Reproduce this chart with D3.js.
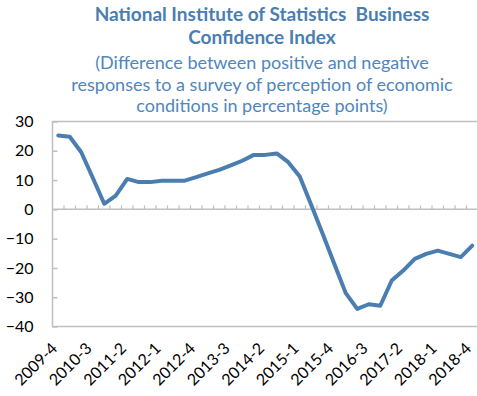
<!DOCTYPE html>
<html>
<head>
<meta charset="utf-8">
<script src="https://cdn.jsdelivr.net/npm/d3@7"></script>
<style>
  html, body { margin: 0; padding: 0; background: #fff; }
  svg { display: block; }
  text { font-family: Lato, "Open Sans", sans-serif; }
</style>
</head>
<body>
<svg id="chart" width="477" height="396"></svg>
<script>
// Quarterly survey periods
const quarters = [
  "2009-4",
  "2010-1", "2010-2", "2010-3", "2010-4",
  "2011-1", "2011-2", "2011-3", "2011-4",
  "2012-1", "2012-2", "2012-3", "2012-4",
  "2013-1", "2013-2", "2013-3", "2013-4",
  "2014-1", "2014-2", "2014-3", "2014-4",
  "2015-1", "2015-2", "2015-3", "2015-4",
  "2016-1", "2016-2", "2016-3", "2016-4",
  "2017-1", "2017-2", "2017-3", "2017-4",
  "2018-1", "2018-2", "2018-3", "2018-4"
];

// Business confidence index (percentage points)
const confidence = [
  25.2,
  24.8, 19.5, 10.8, 1.9,
  4.7, 10.4, 9.3, 9.3,
  9.8, 9.8, 9.8, 11.0,
  12.3, 13.5, 15.0, 16.6,
  18.6, 18.6, 19.1, 16.1,
  11.2, 1.5, -8.4, -18.6,
  -28.6, -34.0, -32.4, -32.9,
  -24.3, -20.9, -16.9, -15.2,
  -14.1, -15.2, -16.3, -12.4
];

const xTickLabels = ["2009-4", "2010-3", "2011-2", "2012-1", "2012-4", "2013-3",
  "2014-2", "2015-1", "2015-4", "2016-3", "2017-2", "2018-1", "2018-4"];
const yTicks = [-40, -30, -20, -10, 0, 10, 20, 30];

const titleLines = ["National Institute of Statistics  Business", "Confidence Index"];
const subtitleLines = [
  "(Difference between positive and negative",
  "responses to a survey of perception of economic",
  "conditions in percentage points)"
];

const svg = d3.select("#chart");
const plot = { left: 52.5, right: 478, top: 121.5, bottom: 326.5 };
const gridColor = "#bfbfbf";
const blue = "#4a7eb0";

const x = d3.scaleBand().domain(quarters).range([plot.left, plot.right]).padding(0);
const y = d3.scaleLinear().domain([-40, 30]).range([plot.bottom, plot.top]);
const cx = q => x(q) + x.bandwidth() / 2;

// Titles
const cxTitle = 262;
svg.append("g").selectAll("text").data(titleLines).join("text")
  .attr("x", cxTitle)
  .attr("y", (d, i) => 21 + i * 23)
  .attr("text-anchor", "middle")
  .attr("font-weight", 700)
  .attr("font-size", 19)
  .attr("fill", blue)
  .style("white-space", "pre")
  .text(d => d);

svg.append("g").selectAll("text").data(subtitleLines).join("text")
  .attr("x", cxTitle)
  .attr("y", (d, i) => 69 + i * 21.5)
  .attr("text-anchor", "middle")
  .attr("font-size", 18)
  .attr("fill", "#4f86bd")
  .text(d => d);

// Plot frame
svg.append("rect")
  .attr("x", plot.left).attr("y", plot.top)
  .attr("width", plot.right - plot.left).attr("height", plot.bottom - plot.top)
  .attr("fill", "none").attr("stroke", gridColor).attr("stroke-width", 1.5);

// Y axis ticks and labels
const yAxis = d3.axisLeft(y).tickValues(yTicks).tickSize(-5).tickPadding(19).tickFormat(d3.format("d"));
const gy = svg.append("g").attr("transform", `translate(${plot.left},0)`).call(yAxis);
gy.select(".domain").remove();
gy.selectAll(".tick line").attr("stroke", gridColor).attr("stroke-width", 1.5);
gy.selectAll(".tick text").attr("font-size", 16).attr("fill", "#000")
  .attr("font-family", "Lato, sans-serif");

// Zero line with category tick marks
const boundaries = quarters.slice(1).map(q => x(q));
const gz = svg.append("g");
gz.append("line")
  .attr("x1", plot.left).attr("x2", plot.right)
  .attr("y1", y(0)).attr("y2", y(0))
  .attr("stroke", gridColor).attr("stroke-width", 1.5);
gz.selectAll("line.tk").data(boundaries).join("line").attr("class", "tk")
  .attr("x1", d => d).attr("x2", d => d)
  .attr("y1", y(0)).attr("y2", y(0) - 4)
  .attr("stroke", gridColor).attr("stroke-width", 1.2);

// Rotated category labels
svg.append("g").selectAll("text").data(xTickLabels).join("text")
  .attr("transform", d => `translate(${cx(d)},${plot.bottom + 23}) rotate(-45)`)
  .attr("text-anchor", "end")
  .attr("font-size", 16)
  .attr("fill", "#000")
  .text(d => d);

// Index line
const line = d3.line().x((d, i) => cx(quarters[i])).y(d => y(d));
svg.append("path")
  .datum(confidence)
  .attr("d", line)
  .attr("fill", "none")
  .attr("stroke", blue)
  .attr("stroke-width", 4)
  .attr("stroke-linejoin", "round")
  .attr("stroke-linecap", "round");
</script>
</body>
</html>
